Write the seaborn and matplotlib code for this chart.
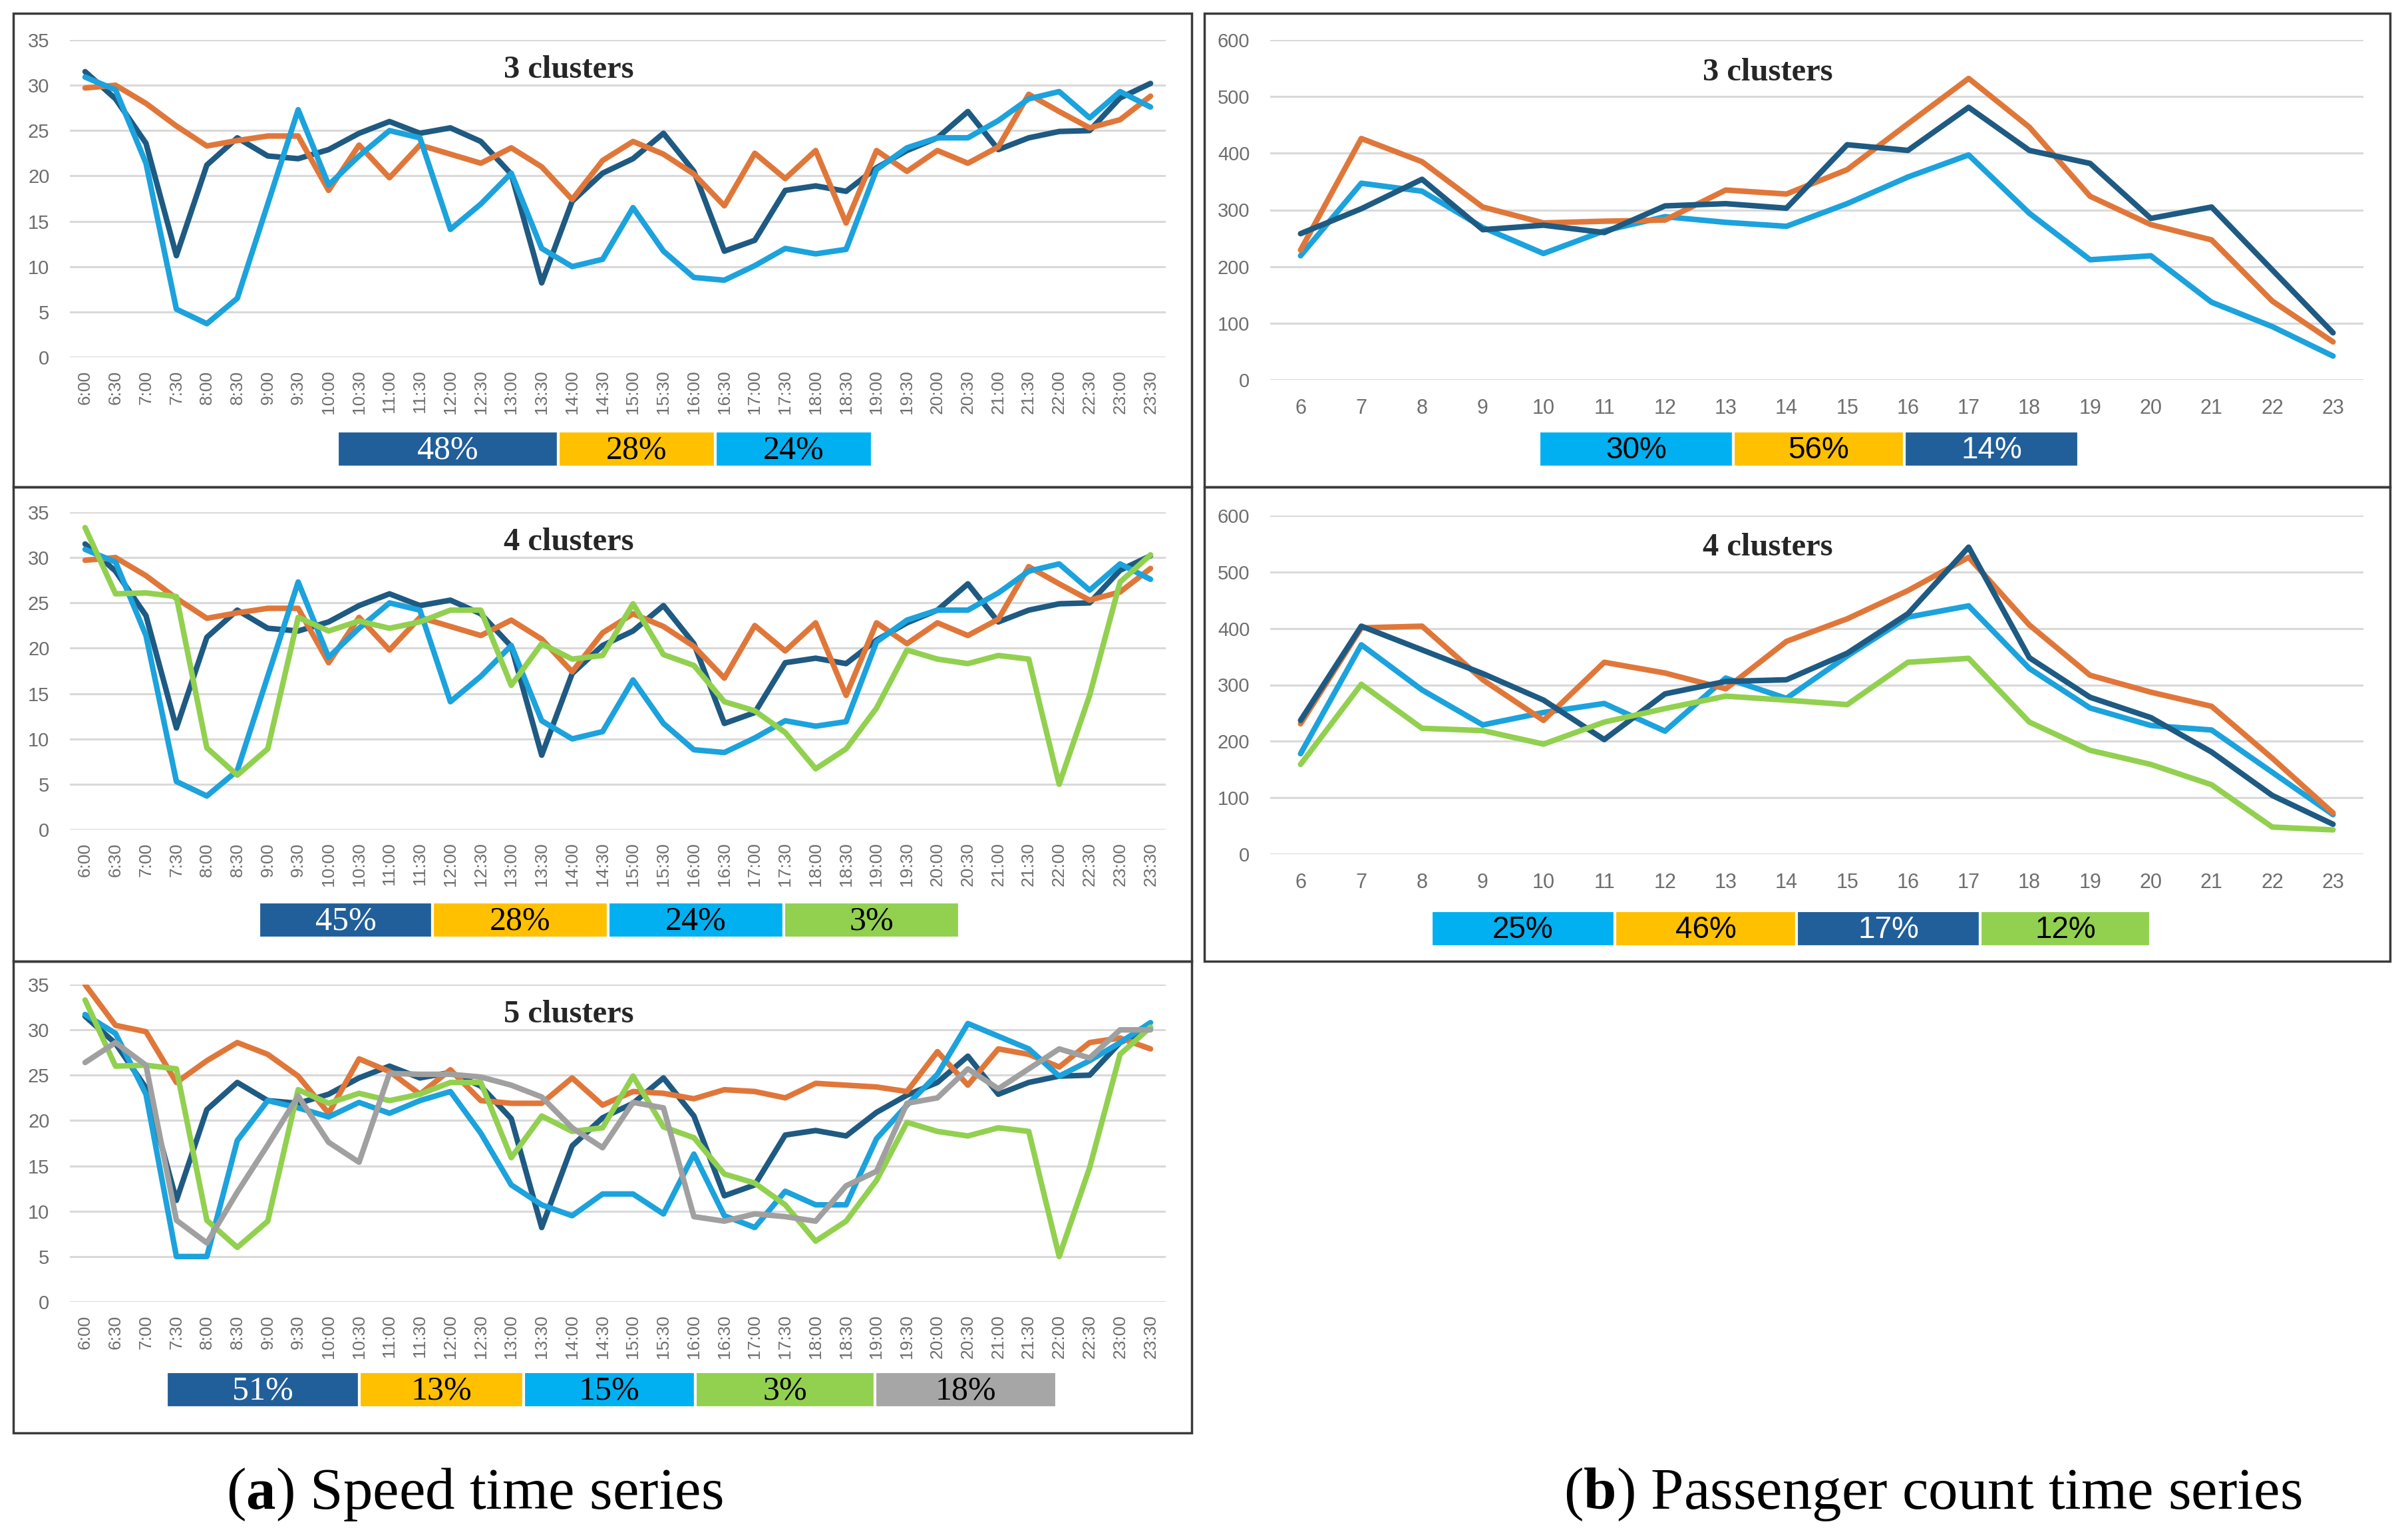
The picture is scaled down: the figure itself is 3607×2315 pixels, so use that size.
import pandas as pd
import seaborn as sns
import matplotlib.pyplot as plt
from matplotlib.patches import Rectangle

sns.set_theme(style="white")
plt.rcParams['font.family'] = ['Liberation Sans', 'DejaVu Sans']
plt.rcParams['mathtext.fontset'] = 'custom'
plt.rcParams['mathtext.rm'] = 'Liberation Serif'
plt.rcParams['mathtext.bf'] = 'Liberation Serif:bold'

# ---- data -------------------------------------------------------------
half_hours = ["6:00", "6:30", "7:00", "7:30", "8:00", "8:30", "9:00", "9:30",
              "10:00", "10:30", "11:00", "11:30", "12:00", "12:30", "13:00",
              "13:30", "14:00", "14:30", "15:00", "15:30", "16:00", "16:30",
              "17:00", "17:30", "18:00", "18:30", "19:00", "19:30", "20:00",
              "20:30", "21:00", "21:30", "22:00", "22:30", "23:00", "23:30"]
hours = ["6", "7", "8", "9", "10", "11", "12", "13", "14", "15", "16", "17",
         "18", "19", "20", "21", "22", "23"]

# speed, clusters shared by the 3- and 4-cluster solutions
speed_navy = [31.5, 28.5, 23.6, 11.2, 21.2, 24.2, 22.2, 21.9, 22.9, 24.7, 26.0, 24.7,
              25.3, 23.8, 20.2, 8.2, 17.2, 20.3, 21.9, 24.7, 20.5, 11.7, 12.9, 18.4,
              18.9, 18.3, 20.9, 22.8, 24.2, 27.1, 22.9, 24.2, 24.9, 25.0, 28.6, 30.2]
speed_orange = [29.7, 30.0, 28.0, 25.5, 23.3, 23.9, 24.4, 24.4, 18.4, 23.4, 19.8, 23.4,
                22.4, 21.4, 23.1, 21.0, 17.4, 21.7, 23.8, 22.4, 20.2, 16.7, 22.5, 19.7,
                22.8, 14.8, 22.8, 20.5, 22.8, 21.4, 23.2, 29.0, 27.1, 25.3, 26.2, 28.8]
speed_blue = [30.9, 29.5, 21.4, 5.3, 3.7, 6.5, 16.9, 27.3, 19.0, 22.2, 25.0, 24.2,
              14.1, 16.9, 20.3, 12.0, 10.0, 10.8, 16.5, 11.7, 8.8, 8.5, 10.1, 12.0,
              11.4, 11.9, 20.7, 23.1, 24.2, 24.2, 26.1, 28.5, 29.3, 26.4, 29.3, 27.6]
speed_green = [33.3, 26.0, 26.1, 25.7, 9.0, 6.0, 8.9, 23.4, 21.9, 23.0, 22.2, 22.9,
               24.2, 24.2, 15.9, 20.5, 18.8, 19.2, 24.9, 19.3, 18.1, 14.1, 13.1, 10.7,
               6.7, 8.9, 13.4, 19.8, 18.8, 18.3, 19.2, 18.8, 5.0, 14.8, 27.3, 30.3]
# speed, 5-cluster solution
speed5_orange = [35.0, 30.5, 29.8, 24.2, 26.6, 28.6, 27.3, 24.9, 20.8, 26.8, 25.4, 22.9,
                 25.6, 22.2, 21.9, 21.9, 24.7, 21.7, 23.2, 23.0, 22.4, 23.4, 23.2, 22.5,
                 24.1, 23.9, 23.7, 23.2, 27.6, 23.9, 27.9, 27.3, 25.9, 28.6, 29.1, 27.9]
speed5_blue = [31.7, 29.6, 22.9, 5.0, 5.0, 17.8, 22.2, 21.4, 20.4, 22.0, 20.8, 22.2,
               23.2, 18.6, 12.9, 10.7, 9.5, 11.9, 11.9, 9.7, 16.3, 9.5, 8.2, 12.2,
               10.7, 10.7, 18.0, 21.7, 25.1, 30.7, 29.3, 27.9, 24.9, 26.6, 28.6, 30.8]
speed5_gray = [26.4, 28.6, 26.1, 9.0, 6.5, 12.1, 17.3, 22.7, 17.6, 15.4, 25.2, 25.1,
               25.1, 24.8, 23.9, 22.6, 19.2, 17.0, 22.0, 21.4, 9.4, 8.9, 9.7, 9.4,
               8.9, 12.8, 14.4, 21.9, 22.5, 25.7, 23.5, 25.7, 27.9, 26.9, 30.0, 30.0]

# passenger counts
pass3_blue = [219, 347, 333, 269, 223, 263, 288, 278, 271, 311, 358, 397, 294, 212, 219, 137, 94, 42]
pass3_orange = [229, 426, 385, 305, 277, 280, 282, 335, 328, 371, 452, 532, 446, 324, 274, 247, 139, 67]
pass3_navy = [258, 302, 354, 265, 273, 260, 307, 311, 303, 415, 405, 481, 405, 382, 285, 305, 194, 83]
pass4_blue = [178, 371, 291, 229, 251, 267, 218, 312, 276, 351, 420, 440, 329, 259, 228, 220, 145, 70]
pass4_orange = [231, 401, 404, 309, 237, 340, 321, 293, 377, 417, 467, 526, 406, 317, 287, 262, 170, 73]
pass4_navy = [237, 404, 362, 320, 273, 203, 284, 306, 309, 356, 426, 544, 348, 278, 242, 181, 104, 53]
pass4_green = [159, 301, 223, 219, 195, 234, 258, 280, 273, 265, 340, 347, 234, 184, 159, 123, 48, 43]

# cluster shares shown in the coloured strips
share_speed3 = ["48%", "28%", "24%"]
share_speed4 = ["45%", "28%", "24%", "3%"]
share_speed5 = ["51%", "13%", "15%", "3%", "18%"]
share_pass3 = ["30%", "56%", "14%"]
share_pass4 = ["25%", "46%", "17%", "12%"]

titles = ["3 clusters", "4 clusters", "5 clusters"]

# ---- styles -----------------------------------------------------------
LINE = {"navy": "#1E5A82", "orange": "#E0773A", "blue": "#1CA2DC",
        "green": "#92D050", "gray": "#A0A0A0"}
STRIP = {"navy": "#215F9A", "orange": "#FFC000", "blue": "#00B0F0",
         "green": "#92D050", "gray": "#A6A6A6"}
TEXT_ON = {"navy": "white", "orange": "black", "blue": "black",
           "green": "black", "gray": "black"}

W, H = 3607, 2315
fig = plt.figure(figsize=(W / 100, H / 100), dpi=100)


def axes_px(x0, y0, x1, y1):
    return fig.add_axes([x0 / W, 1 - y1 / H, (x1 - x0) / W, (y1 - y0) / H])


def draw_panel(ax, labels, series, keys, title, ymax, ystep, rot, xpad, fs_x):
    rows = []
    for vals, key in zip(series, keys):
        for i, v in enumerate(vals):
            rows.append({"t": i, "v": v, "cluster": key})
    df = pd.DataFrame(rows)
    sns.lineplot(data=df, x="t", y="v", hue="cluster", hue_order=keys,
                 palette={k: LINE[k] for k in keys}, linewidth=6,
                 legend=False, ax=ax, sort=False)
    ax.set_xlim(-0.5, len(labels) - 0.5)
    ax.set_ylim(0, ymax)
    ax.set_yticks(range(0, ymax + 1, ystep))
    ax.set_xticks(range(len(labels)))
    ax.set_xticklabels(labels, rotation=rot, fontsize=fs_x, color="#6E6E6E")
    for t in ax.get_yticklabels():
        t.set_fontsize(21)
        t.set_color("#6E6E6E")
    ax.tick_params(axis="y", length=0, pad=22)
    ax.tick_params(axis="x", length=0, pad=xpad)
    ax.yaxis.grid(True, color="#D9D9D9", linewidth=2.2)
    ax.xaxis.grid(False)
    ax.set_axisbelow(True)
    for s in ax.spines.values():
        s.set_visible(False)
    ax.set_xlabel("")
    ax.set_ylabel("")
    ax.set_facecolor("white")
    ax.text(0.455, 0.905, title, transform=ax.transAxes, ha="center", va="center",
            fontsize=35, fontweight="bold", family="Liberation Serif")


# speed panels (left column)
left_y = [(60, 537), (770, 1247), (1480, 1957)]
speed_sets = [
    ([speed_navy, speed_orange, speed_blue], ["navy", "orange", "blue"]),
    ([speed_navy, speed_orange, speed_blue, speed_green], ["navy", "orange", "blue", "green"]),
    ([speed_navy, speed5_orange, speed5_blue, speed_green, speed5_gray],
     ["navy", "orange", "blue", "green", "gray"]),
]
for (y0, y1), (series, keys), title in zip(left_y, speed_sets, titles):
    ax = axes_px(105, y0, 1752, y1)
    draw_panel(ax, half_hours, series, keys, title, 35, 5, 90, 14, 19)

# passenger panels (right column)
right_y = [(60, 571), (775, 1284)]
pass_sets = [
    ([pass3_blue, pass3_orange, pass3_navy], ["blue", "orange", "navy"]),
    ([pass4_blue, pass4_orange, pass4_navy, pass4_green], ["blue", "orange", "navy", "green"]),
]
for (y0, y1), (series, keys), title in zip(right_y, pass_sets, titles[:2]):
    ax = axes_px(1909, y0, 3552, y1)
    draw_panel(ax, hours, series, keys, title, 600, 100, 0, 20, 22)

# ---- overlay: frames, share strips, captions --------------------------
ov = fig.add_axes([0, 0, 1, 1])
ov.set_xlim(0, W)
ov.set_ylim(H, 0)
ov.axis("off")
ov.patch.set_alpha(0)

frames = [(20, 20, 1791, 732), (20, 732, 1791, 1445), (20, 1445, 1791, 2154),
          (1810, 20, 3592, 732), (1810, 732, 3592, 1445)]
for x0, y0, x1, y1 in frames:
    ov.add_patch(Rectangle((x0, y0), x1 - x0, y1 - y0, fill=False,
                           edgecolor="#3A3A3A", linewidth=2.5))

strips = [
    (share_speed3, ["navy", "orange", "blue"], [507, 839, 1075, 1311], 675, "Liberation Serif"),
    (share_speed4, ["navy", "orange", "blue", "green"], [389, 650, 914, 1178, 1442], 1383, "Liberation Serif"),
    (share_speed5, ["navy", "orange", "blue", "green", "gray"], [250, 540, 787, 1045, 1315, 1588], 2089, "Liberation Serif"),
    (share_pass3, ["blue", "orange", "navy"], [2313, 2605, 2862, 3124], 675, "Liberation Sans"),
    (share_pass4, ["blue", "orange", "navy", "green"], [2151, 2427, 2700, 2976, 3232], 1396, "Liberation Sans"),
]
for shares, keys, edges, yc, fam in strips:
    lefts = edges[:-1]
    widths = [b - a for a, b in zip(edges[:-1], edges[1:])]
    ov.barh([yc] * len(shares), widths, left=lefts, height=54,
            color=[STRIP[k] for k in keys], edgecolor="white", linewidth=3)
    fs = 36 if fam == "Liberation Serif" else 33
    for lab, k, a, w in zip(shares, keys, lefts, widths):
        ov.text(a + w / 2, yc + 2, lab, ha="center", va="center", fontsize=fs,
                color=TEXT_ON[k], family=fam)

ov.text(713, 2268, r"($\mathbf{a}$) Speed time series", ha="center", va="baseline",
        fontsize=64, family="Liberation Serif", color="black")
ov.text(2905, 2268, r"($\mathbf{b}$) Passenger count time series", ha="center",
        va="baseline", fontsize=64, family="Liberation Serif", color="black")

fig.savefig("out.png", dpi=100, facecolor="white")
